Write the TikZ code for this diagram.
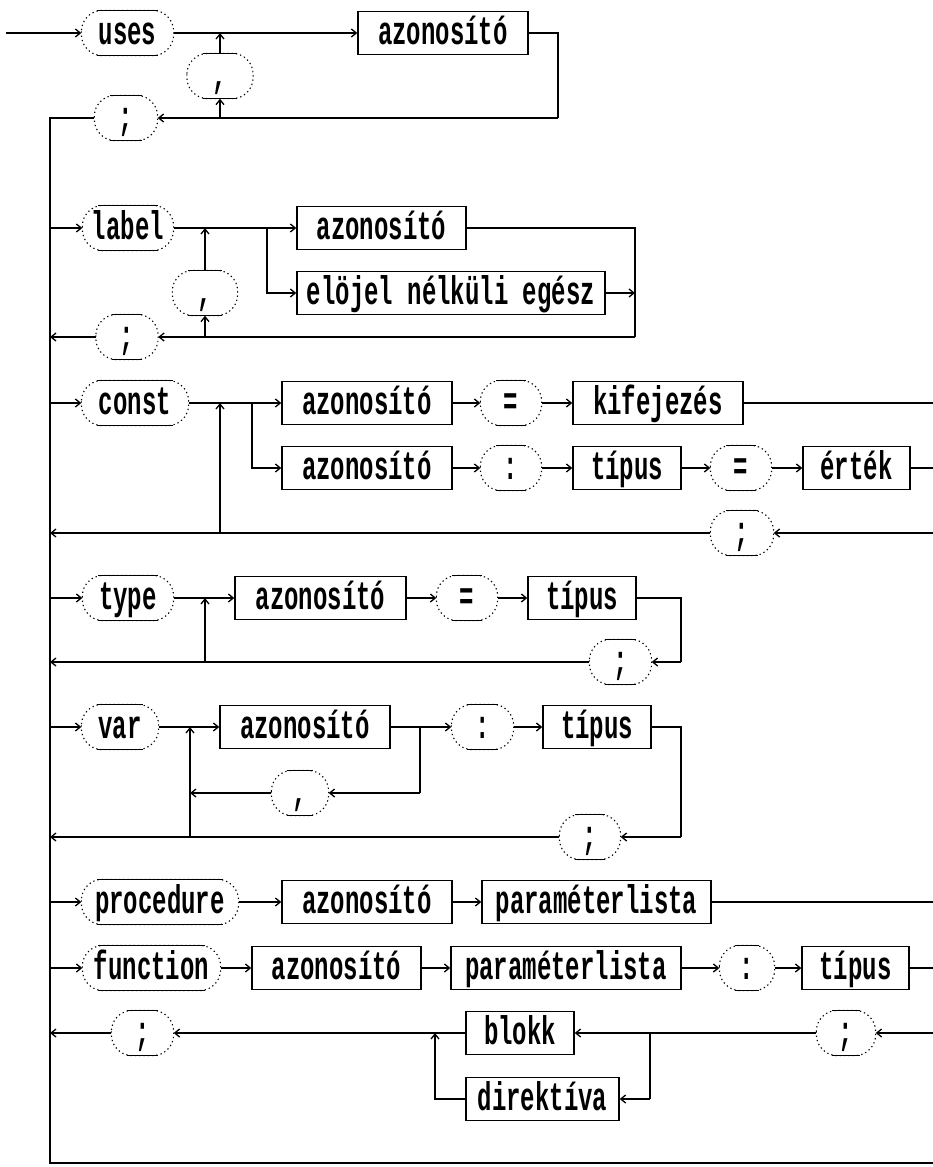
\documentclass[tikz,border=0pt]{standalone}
\usepackage{fontspec}
\newfontfamily\dm{Liberation Mono}[FakeStretch=0.6]
\usetikzlibrary{arrows.meta}
\tikzset{
  lbl/.style={inner sep=0pt, text height=28pt, text depth=6pt,
    font=\dm\bfseries\fontsize{40}{44}\selectfont},
  box/.style={lbl, draw, rectangle, minimum height=43pt},
  tokn/.style={lbl, rectangle, minimum height=44pt},
  dotpat/.style={line width=1.1pt, dash pattern=on 1.3pt off 3pt},
}
\newcommand\mkoval[5]{%
  \node[tokn, minimum width=#4pt] (#1) at (#2,#3) {#5};
  \draw[dotpat, rounded corners=21pt] (#1.north west) rectangle (#1.south east);
  \draw ([xshift=16pt]#1.north west) -- ([xshift=-16pt]#1.north east);
  \draw ([xshift=16pt]#1.south west) -- ([xshift=-16pt]#1.south east);
}
\begin{document}
\begin{tikzpicture}[x=1pt,y=-1pt,line width=1.3pt,
  >={Straight Barb[length=5pt,width=8pt]}]
\fill[white] (0,0) rectangle (933,1167);
\useasboundingbox (0,0) rectangle (933,1167);

% ---- uses
\coordinate (s0) at (6,33);
\mkoval{uses}{127.5}{33}{91}{uses}
\node[box, minimum width=170pt] (az1) at (443,33) {azonosító};
\mkoval{com1}{220}{76}{65}{,}
\mkoval{semi1}{126}{118}{62}{;}
\coordinate (j1) at (220,33);
\coordinate (r1) at (220,118);
\coordinate (e1) at (558,118);
\coordinate (mtop) at (50,118);
\coordinate (mbot) at (50,1163);
\coordinate (fin) at (933,1163);
\draw[->] (s0) -- (uses);
\draw[->] (uses) -- (az1);
\draw[->] (com1) -- (j1);
\draw[->] (r1) -- (com1);
\draw (az1) -| (e1);
\draw[->] (e1) -- (semi1);
\draw (semi1) -- (mtop) -- (mbot) -- (fin);

% ---- label
\coordinate (m2) at (50,228);
\mkoval{lab}{128}{228}{90}{label}
\node[box, minimum width=169pt] (az2) at (381.5,228) {azonosító};
\node[box, minimum width=308pt] (elo) at (451,293) {elöjel nélküli egész};
\mkoval{com2}{205}{293}{64}{,}
\mkoval{semi2}{127}{337}{61}{;}
\coordinate (j2) at (205,228);
\coordinate (b2) at (267,228);
\coordinate (r2) at (205,337);
\coordinate (e2) at (635,337);
\coordinate (e2a) at (635,293);
\coordinate (m2r) at (50,337);
\draw[->] (m2) -- (lab);
\draw[->] (lab) -- (az2);
\draw[->] (b2) |- (elo);
\draw (az2) -| (e2);
\draw[->] (elo) -- (e2a);
\draw[->] (com2) -- (j2);
\draw[->] (r2) -- (com2);
\draw[->] (e2) -- (semi2);
\draw[->] (semi2) -- (m2r);

% ---- const
\coordinate (m3) at (50,403);
\mkoval{con}{135}{403}{106}{const}
\node[box, minimum width=170pt] (az3) at (367,403) {azonosító};
\node[box, minimum width=170pt] (az4) at (367,468) {azonosító};
\mkoval{eq1}{511}{403}{60}{=}
\node[box, minimum width=170pt] (kif) at (658,403) {kifejezés};
\mkoval{col1}{511}{468}{60}{:}
\node[box, minimum width=108pt] (tip1) at (627,468) {típus};
\mkoval{eq2}{741}{468}{60}{=}
\node[box, minimum width=107pt] (ert) at (856.5,468) {érték};
\mkoval{semi3}{742}{533}{62}{;}
\coordinate (j3) at (220,403);
\coordinate (r3) at (220,533);
\coordinate (b3) at (252,403);
\coordinate (x3a) at (933,403);
\coordinate (x3b) at (933,468);
\coordinate (x3c) at (933,533);
\coordinate (m3r) at (50,533);
\draw[->] (m3) -- (con);
\draw[->] (con) -- (az3);
\draw[->] (b3) |- (az4);
\draw[->] (az3) -- (eq1);
\draw[->] (eq1) -- (kif);
\draw (kif) -- (x3a);
\draw[->] (az4) -- (col1);
\draw[->] (col1) -- (tip1);
\draw[->] (tip1) -- (eq2);
\draw[->] (eq2) -- (ert);
\draw (ert) -- (x3b);
\draw[->] (x3c) -- (semi3);
\draw[->] (semi3) -- (m3r);
\draw[->] (r3) -- (j3);

% ---- type
\coordinate (m4) at (50,598);
\mkoval{typ}{128}{598}{90}{type}
\node[box, minimum width=171pt] (az5) at (320.5,598) {azonosító};
\mkoval{eq3}{467}{598}{60}{=}
\node[box, minimum width=108pt] (tip2) at (582,598) {típus};
\mkoval{semi4}{620.5}{662}{61}{;}
\coordinate (j4) at (205,598);
\coordinate (r4) at (205,662);
\coordinate (e4) at (681,662);
\coordinate (m4r) at (50,662);
\draw[->] (m4) -- (typ);
\draw[->] (typ) -- (az5);
\draw[->] (az5) -- (eq3);
\draw[->] (eq3) -- (tip2);
\draw (tip2) -| (e4);
\draw[->] (e4) -- (semi4);
\draw[->] (semi4) -- (m4r);
\draw[->] (r4) -- (j4);

% ---- var
\coordinate (m5) at (50,727);
\mkoval{var}{120}{727}{76}{var}
\node[box, minimum width=170pt] (az6) at (305,727) {azonosító};
\mkoval{col2}{482.5}{727}{61}{:}
\node[box, minimum width=108pt] (tip3) at (597,727) {típus};
\mkoval{com3}{300}{793}{56}{,}
\mkoval{semi5}{590}{837}{60}{;}
\coordinate (j5) at (190,727);
\coordinate (r5) at (190,837);
\coordinate (c5) at (190,793);
\coordinate (k5) at (420,727);
\coordinate (k5b) at (420,793);
\coordinate (e5) at (681,837);
\coordinate (m5r) at (50,837);
\draw[->] (m5) -- (var);
\draw[->] (var) -- (az6);
\draw[->] (az6) -- (col2);
\draw[->] (col2) -- (tip3);
\draw (tip3) -| (e5);
\draw[->] (e5) -- (semi5);
\draw[->] (semi5) -- (m5r);
\draw[->] (r5) -- (j5);
\draw (k5) -- (k5b);
\draw[->] (k5b) -- (com3);
\draw[->] (com3) -- (c5);

% ---- procedure
\coordinate (m6) at (50,902);
\mkoval{proc}{160}{902}{156}{procedure}
\node[box, minimum width=170pt] (az7) at (367,902) {azonosító};
\node[box, minimum width=229pt] (par1) at (596.5,902) {paraméterlista};
\coordinate (x6) at (933,902);
\draw[->] (m6) -- (proc);
\draw[->] (proc) -- (az7);
\draw[->] (az7) -- (par1);
\draw (par1) -- (x6);

% ---- function
\coordinate (m7) at (50,968);
\mkoval{func}{151.5}{968}{137}{function}
\node[box, minimum width=169pt] (az8) at (336.5,968) {azonosító};
\node[box, minimum width=230pt] (par2) at (566,968) {paraméterlista};
\mkoval{col3}{747}{968}{54}{:}
\node[box, minimum width=107pt] (tip4) at (855.5,968) {típus};
\coordinate (x7) at (933,968);
\draw[->] (m7) -- (func);
\draw[->] (func) -- (az8);
\draw[->] (az8) -- (par2);
\draw[->] (par2) -- (col3);
\draw[->] (col3) -- (tip4);
\draw (tip4) -- (x7);

% ---- blokk / direktiva
\mkoval{semi6}{846}{1033}{58}{;}
\node[box, minimum width=108pt] (blk) at (520,1033) {blokk};
\node[box, minimum width=153pt] (dir) at (542.5,1099) {direktíva};
\mkoval{semi7}{142.5}{1033}{61}{;}
\coordinate (x8) at (933,1033);
\coordinate (k8) at (650,1033);
\coordinate (k8b) at (650,1099);
\coordinate (k9) at (435,1033);
\coordinate (m8r) at (50,1033);
\draw[->] (x8) -- (semi6);
\draw (semi6) -- (k8);
\draw[->] (k8) -- (blk);
\draw (k8) -- (k8b);
\draw[->] (k8b) -- (dir);
\draw[->] (blk) -- (semi7);
\draw[->] (dir) -| (k9);
\draw[->] (semi7) -- (m8r);
\end{tikzpicture}
\end{document}
